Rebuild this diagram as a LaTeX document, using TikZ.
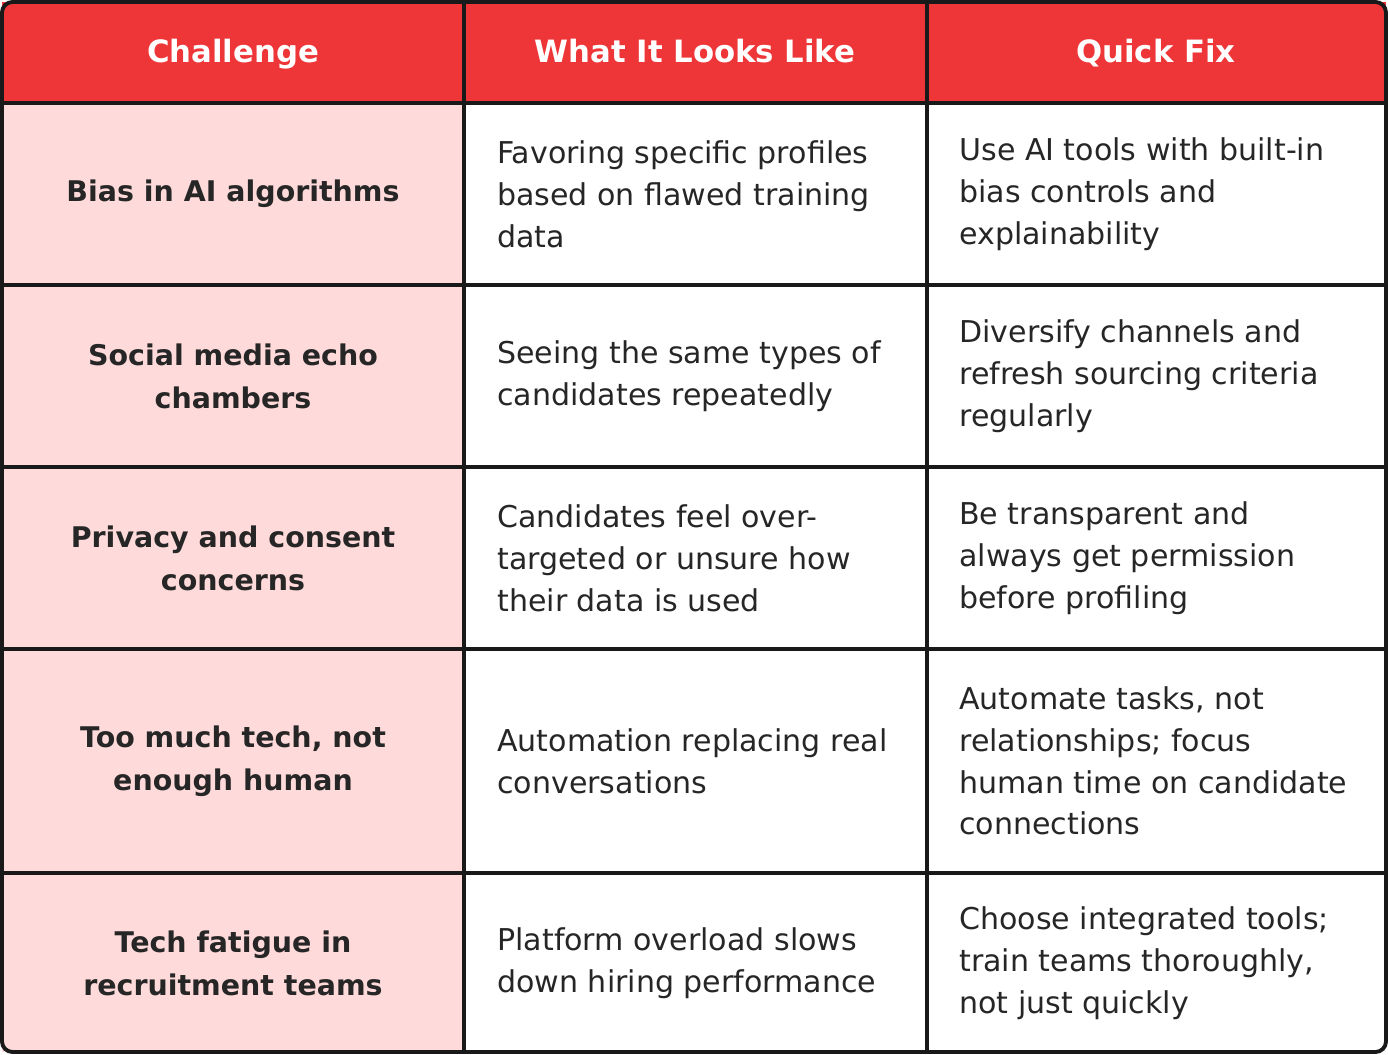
\documentclass[tikz,border=0pt]{standalone}
\usepackage{fontspec}
\setmainfont{DejaVu Sans}
\definecolor{headred}{HTML}{EE3638}
\definecolor{rowpink}{HTML}{FFDADA}
\tikzset{
  px/.style={x=0.02cm,y=-0.02cm},
  head/.style={text=white,text height=1.3ex,text depth=0.25ex,font=\fontsize{17.5}{20}\selectfont\bfseries},
  chal/.style={align=center,font=\fontsize{16.2}{24.5}\selectfont\bfseries\color{black!85}},
  cell/.style={anchor=west,align=left,inner sep=0pt,font=\fontsize{17.1}{23.8}\selectfont\color{black!85}},
  grid/.style={line width=2.2pt,black!90}
}
\begin{document}
\begin{tikzpicture}[px]
  \useasboundingbox (0,0) rectangle (1388,1054);
  \fill[headred] (2,2) rectangle (1386,103);
  \fill[rowpink] (2,103) rectangle (464,1052);
  \fill[white] (464,103) rectangle (1386,1052);

  \node[head] (h1) at (233,57) {Challenge};
  \node[head] (h2) at (695,57) {What It Looks Like};
  \node[head] (h3) at (1156,57) {Quick Fix};

  \node[chal] (c1) at (233,194) {Bias in AI algorithms};
  \node[chal] (c2) at (233,376) {Social media echo\\chambers};
  \node[chal] (c3) at (233,558) {Privacy and consent\\concerns};
  \node[chal] (c4) at (233,761) {Too much tech, not\\enough human};
  \node[chal] (c5) at (233,963) {Tech fatigue in\\recruitment teams};

  \node[cell] (w1) at (497,194) {Favoring specific profiles\\based on flawed training\\data};
  \node[cell] (w2) at (497,376) {Seeing the same types of\\candidates repeatedly};
  \node[cell] (w3) at (497,558) {Candidates feel over-\\targeted or unsure how\\their data is used};
  \node[cell] (w4) at (497,761) {Automation replacing real\\conversations};
  \node[cell] (w5) at (497,963) {Platform overload slows\\down hiring performance};

  \node[cell] (f1) at (959,194) {Use AI tools with built-in\\bias controls and\\explainability};
  \node[cell] (f2) at (959,376) {Diversify channels and\\refresh sourcing criteria\\regularly};
  \node[cell] (f3) at (959,558) {Be transparent and\\always get permission\\before profiling};
  \node[cell] (f4) at (959,761) {Automate tasks, not\\relationships; focus\\human time on candidate\\connections};
  \node[cell] (f5) at (959,963) {Choose integrated tools;\\train teams thoroughly,\\not just quickly};

  % grid lines
  \draw[grid] (2,103) -- (1386,103);
  \draw[grid] (2,285) -- (1386,285);
  \draw[grid] (2,467) -- (1386,467);
  \draw[grid] (2,649) -- (1386,649);
  \draw[grid] (2,873) -- (1386,873);
  \draw[grid] (464,2) -- (464,1052);
  \draw[grid] (927,2) -- (927,1052);
  \draw[grid,rounded corners=6] (2,2) rectangle (1386,1052);
\end{tikzpicture}
\end{document}
